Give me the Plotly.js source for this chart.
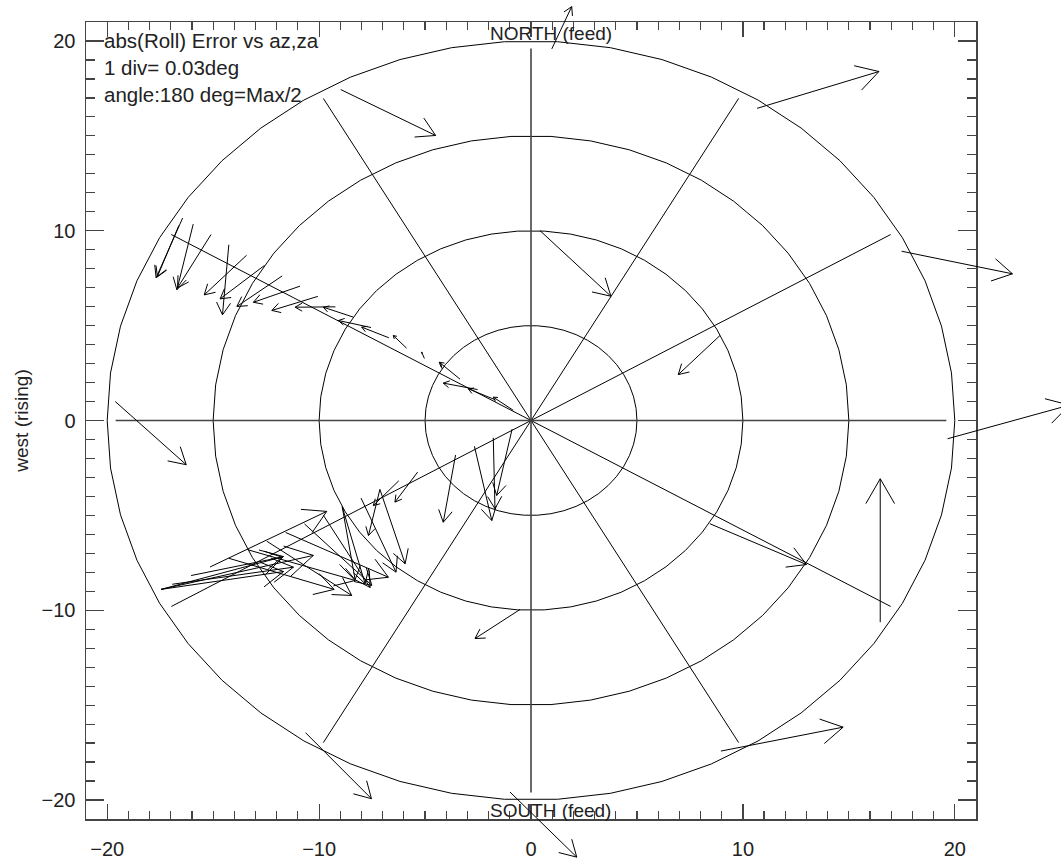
<!DOCTYPE html>
<html><head><meta charset="utf-8">
<script src="https://cdn.plot.ly/plotly-3.0.1.min.js"></script>
<style>html,body{margin:0;padding:0;background:#fff}</style>
</head><body><div id="chart" style="width:1061px;height:861px"></div>
<script>
// ---- polar grid ----
const ringRadii = [5, 10, 15, 20];
const spokeAngles = [0, 30, 60, 90, 120, 150, 180, 210, 240, 270, 300, 330];
const spokeLength = 19.6;

// ---- arrows: tail (x,y) -> head (x,y), data units ----
const tailX = [
 -8.98, 10.67, 17.49, 19.66, 16.48, 8.44, 8.92, 0.42, 8.96, -0.99, -10.64, -19.62, -0.52, 0.98,
 -16.44, -16.62, -15.94, -15.10, -14.26, -13.42, -12.58, -11.74, -10.90, -10.06, -9.23, -8.39, -7.55, -6.71, -5.87, -5.03, -4.19, -3.35, -2.52, -1.68, -0.84,
 -17.46, -17.46, -17.46, -16.93, -16.04, -15.15, -14.26, -13.37, -12.47, -11.58, -10.69, -9.80, -8.91, -8.91, -8.02, -7.13, -7.13, -6.24, -5.35, -3.56, -2.67, -1.78, -0.89
];
const tailY = [
 17.44, 16.45, 8.92, -0.96, -10.63, -5.44, 4.48, 10.01, -17.42, -19.58, -16.45, 1.00, -9.96, 19.58,
 10.67, 10.27, 10.35, 9.80, 9.26, 8.71, 8.17, 7.62, 7.08, 6.54, 5.99, 5.45, 4.90, 4.36, 3.81, 3.27, 2.72, 2.18, 1.63, 1.09, 0.54,
 -8.90, -8.90, -8.90, -8.63, -8.17, -7.72, -7.26, -6.81, -6.36, -5.90, -5.45, -4.99, -4.54, -4.54, -4.09, -3.63, -3.63, -3.18, -2.72, -1.82, -1.36, -0.91, -0.45
];
const headX = [
 -4.50, 16.42, 22.72, 25.41, 16.48, 13.00, 6.95, 3.77, 14.73, 2.16, -7.53, -16.27, -2.64, 1.92,
 -17.69, -17.63, -16.71, -16.68, -14.56, -15.42, -14.67, -13.88, -13.10, -12.23, -11.13, -9.80, -9.09, -7.99, -6.50, -5.16, -4.27, -4.33, -4.14, -2.96, -1.78,
 -11.68, -11.68, -10.27, -11.21, -11.76, -9.64, -9.29, -8.30, -8.46, -6.73, -7.51, -7.59, -8.30, -7.83, -6.37, -5.94, -7.67, -7.44, -6.42, -4.14, -1.85, -1.70, -1.62
];
const headY = [
 15.02, 18.39, 7.73, 0.81, -3.07, -7.59, 2.42, 6.55, -16.16, -23.01, -19.93, -2.33, -11.49, 21.81,
 7.52, 7.59, 6.89, 6.99, 5.57, 6.62, 6.41, 6.01, 6.23, 5.80, 5.97, 5.97, 5.27, 4.92, 4.48, 3.60, 3.03, 3.07, 1.97, 1.67, 1.23,
 -7.17, -7.96, -7.11, -7.73, -7.20, -4.79, -8.90, -8.43, -9.22, -8.26, -8.69, -8.80, -8.39, -8.60, -7.99, -7.55, -6.06, -4.48, -4.30, -5.36, -5.27, -4.65, -3.95
];

// ---- axes / text ----
const axisRange = [-21, 21];
const tickValues = [-20, -10, 0, 10, 20];
const infoLines = ["abs(Roll) Error vs az,za", "1 div= 0.03deg", "angle:180 deg=Max/2"];
const northLabel = "NORTH (feed)";
const southLabel = "SOUTH (feed)";
const yTitle = "west (rising)";

// ---- figure geometry (px) ----
const W = 1061, H = 861;
const frame = {l: 86, r: 976, t: 22, b: 819};
const kx = (frame.r - frame.l) / (axisRange[1] - axisRange[0]);
const ky = (frame.b - frame.t) / (axisRange[1] - axisRange[0]);

// grid traces
const ringX = [], ringY = [];
const nSeg = 50;
ringRadii.forEach(r => {
  for (let i = 0; i <= nSeg; i++) {
    const a = 2 * Math.PI * i / nSeg;
    ringX.push(r * Math.cos(a)); ringY.push(r * Math.sin(a));
  }
  ringX.push(null); ringY.push(null);
});
const spX = [], spY = [], axX = [], axY = [];
spokeAngles.forEach(d => {
  const a = d * Math.PI / 180;
  const ex = spokeLength * Math.cos(a), ey = spokeLength * Math.sin(a);
  if (d % 90 === 0) { axX.push(0, ex, null); axY.push(0, ey, null); }
  else { spX.push(0, ex, null); spY.push(0, ey, null); }
});

// arrows (open V heads, 30 deg half-angle, 0.2 of shaft length)
const arX = [], arY = [];
const ang = Math.PI / 6;
for (let i = 0; i < tailX.length; i++) {
  const x0 = tailX[i], y0 = tailY[i], x1 = headX[i], y1 = headY[i];
  arX.push(x0, x1, null); arY.push(y0, y1, null);
  const dx = (x1 - x0) * kx, dy = (y1 - y0) * ky;
  const L = Math.hypot(dx, dy);
  if (L === 0) continue;
  const h = 0.2 * L, ux = -dx / L, uy = -dy / L;
  const c = Math.cos(ang), s = Math.sin(ang);
  const p1x = x1 + h * (ux * c - uy * s) / kx, p1y = y1 + h * (ux * s + uy * c) / ky;
  const p2x = x1 + h * (ux * c + uy * s) / kx, p2y = y1 + h * (-ux * s + uy * c) / ky;
  arX.push(p1x, x1, p2x, null); arY.push(p1y, y1, p2y, null);
}

const traces = [
  {x: ringX, y: ringY, mode: 'lines', line: {color: '#000', width: 1}, hoverinfo: 'skip', xaxis: 'x', yaxis: 'y'},
  {x: spX, y: spY, mode: 'lines', line: {color: '#000', width: 1}, hoverinfo: 'skip', xaxis: 'x', yaxis: 'y'},
  {x: axX, y: axY, mode: 'lines', line: {color: '#444', width: 1.6}, hoverinfo: 'skip', xaxis: 'x', yaxis: 'y'},
  {x: arX, y: arY, mode: 'lines', line: {color: '#000', width: 1}, hoverinfo: 'skip', xaxis: 'x2', yaxis: 'y2'}
];

const fam = 'Liberation Sans, Arial, sans-serif';
const font = {family: fam, size: 19, color: '#222'};
const infoFont = {family: fam, size: 20.5, color: '#222'};
const axisCommon = {
  range: axisRange, tickvals: tickValues, showgrid: false, zeroline: false,
  showline: true, linecolor: '#444', linewidth: 1.5, mirror: 'ticks',
  ticks: 'inside', tickcolor: '#444', tickwidth: 1.2,
  tickfont: {family: fam, size: 20, color: '#222'},
  fixedrange: true
};
const layout = {
  width: W, height: H, showlegend: false,
  margin: {l: 0, r: 0, t: 0, b: 0},
  paper_bgcolor: '#fff', plot_bgcolor: 'rgba(0,0,0,0)',
  xaxis: Object.assign({}, axisCommon, {
    domain: [frame.l / W, frame.r / W], anchor: 'y', ticklen: 15, ticklabelstandoff: 11,
    minor: {dtick: 1, ticklen: 8, ticks: 'inside', tickcolor: '#444', tickwidth: 1.2}
  }),
  yaxis: Object.assign({}, axisCommon, {
    domain: [(H - frame.b) / H, (H - frame.t) / H], anchor: 'x', ticklen: 18, ticklabelstandoff: 5,
    minor: {dtick: 1, ticklen: 9, ticks: 'inside', tickcolor: '#444', tickwidth: 1.2},
    title: {text: yTitle, font: font, standoff: 8}
  }),
  xaxis2: {domain: [0, 1], anchor: 'y2', visible: false, fixedrange: true,
    range: [axisRange[0] - frame.l / kx, axisRange[1] + (W - frame.r) / kx]},
  yaxis2: {domain: [0, 1], anchor: 'x2', visible: false, fixedrange: true,
    range: [axisRange[0] - (H - frame.b) / ky, axisRange[1] + frame.t / ky]},
  annotations: [
    ...infoLines.map((t, i) => ({text: t, xref: 'x', yref: 'y', x: -20.25, y: 20.0 - 1.42 * i,
      xanchor: 'left', yanchor: 'middle', showarrow: false, font: infoFont})),
    {text: northLabel, xref: 'x', yref: 'y', x: -2.05, y: 20.39, xanchor: 'left', yanchor: 'middle', showarrow: false, font: font},
    {text: southLabel, xref: 'x', yref: 'y', x: -2.05, y: -20.55, xanchor: 'left', yanchor: 'middle', showarrow: false, font: font}
  ]
};
Plotly.newPlot('chart', traces, layout, {displayModeBar: false, staticPlot: true});
</script></body></html>
